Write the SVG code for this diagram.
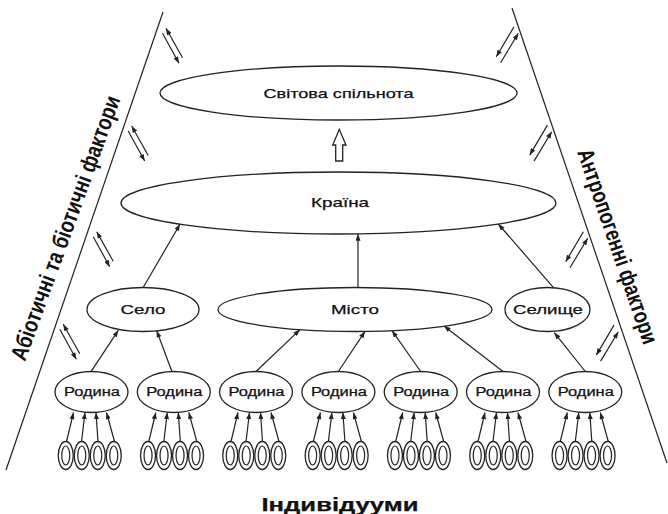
<svg xmlns="http://www.w3.org/2000/svg" xmlns:xlink="http://www.w3.org/1999/xlink" width="668" height="514" viewBox="0 0 668 514">
<style>
.ln{stroke:#222;stroke-width:1.2;fill:none}
.el{stroke:#222;stroke-width:1.3;fill:#fff}
.ar{stroke:#222;stroke-width:1.2;fill:none;marker-end:url(#ah)}
.t{font-family:"Liberation Sans",Arial,sans-serif;fill:#111;text-anchor:middle;stroke:#111;stroke-width:0.25}
.side{font-family:"Liberation Sans",Arial,sans-serif;font-weight:bold;font-size:23px;fill:#111}
</style>
<defs>
<marker id="ah" viewBox="0 0 8 6" refX="8" refY="3" markerWidth="7" markerHeight="5" markerUnits="userSpaceOnUse" orient="auto"><path d="M0,0 L8,3 L0,6 z" fill="#222"/></marker>
<g id="ind"><ellipse cx="0" cy="0" rx="7.5" ry="14" class="el"/><ellipse cx="0" cy="0" rx="4" ry="9.5" class="ln"/></g>
</defs>
<rect width="668" height="514" fill="#fff"/>
<g id="boundaries">
<line x1="163" y1="12" x2="6" y2="470" class="ln"/>
<line x1="512" y1="8" x2="667" y2="463" class="ln"/>
</g>
<g id="connectors">
<line x1="182.5" y1="57.8" x2="166" y2="28.3" class="ar"/>
<line x1="162.5" y1="33.3" x2="179" y2="63.3" class="ar"/>
<line x1="148.2" y1="155.5" x2="131.7" y2="126" class="ar"/>
<line x1="128.2" y1="131" x2="144.7" y2="161" class="ar"/>
<line x1="113.2" y1="261.2" x2="96.7" y2="231.7" class="ar"/>
<line x1="93.2" y1="236.7" x2="109.7" y2="266.7" class="ar"/>
<line x1="79.8" y1="353.8" x2="63.3" y2="324.3" class="ar"/>
<line x1="59.8" y1="329.3" x2="76.3" y2="359.3" class="ar"/>
<line x1="500.6" y1="62.7" x2="518.3" y2="33.3" class="ar"/>
<line x1="514" y1="26.7" x2="496.3" y2="56.7" class="ar"/>
<line x1="534" y1="161.1" x2="551.7" y2="131.7" class="ar"/>
<line x1="547.4" y1="125.1" x2="529.7" y2="155.1" class="ar"/>
<line x1="570" y1="267.7" x2="587.7" y2="238.3" class="ar"/>
<line x1="583.4" y1="231.7" x2="565.7" y2="261.7" class="ar"/>
<line x1="600.6" y1="361.1" x2="618.3" y2="331.7" class="ar"/>
<line x1="614" y1="325.1" x2="596.3" y2="355.1" class="ar"/>
<path d="M335.7,161 L335.7,145 L332.7,145 L339.3,129.3 L346,145 L342.7,145 L342.7,161 Z" class="el"/>
<line x1="143.3" y1="287.3" x2="180" y2="224.2" class="ar"/>
<line x1="358" y1="287.5" x2="358" y2="234" class="ar"/>
<line x1="553.3" y1="287.3" x2="498.3" y2="224" class="ar"/>
<line x1="91" y1="371.7" x2="118.3" y2="330.3" class="ar"/>
<line x1="172" y1="371.7" x2="156.7" y2="330.7" class="ar"/>
<line x1="256" y1="371.5" x2="300" y2="329.6" class="ar"/>
<line x1="338.4" y1="371.5" x2="365" y2="331.4" class="ar"/>
<line x1="420.7" y1="371.5" x2="392" y2="330.7" class="ar"/>
<line x1="503" y1="371.5" x2="444" y2="326" class="ar"/>
<line x1="585.3" y1="371.5" x2="554.3" y2="332.7" class="ar"/>
<g id="ind-arrows">
<line x1="66.5" y1="441.5" x2="73.5" y2="412.5" class="ar"/><line x1="81.5" y1="441.5" x2="85" y2="412.5" class="ar"/><line x1="98" y1="441.5" x2="96" y2="412.5" class="ar"/><line x1="114.5" y1="441.5" x2="106.5" y2="412.5" class="ar"/>
<line x1="148.8" y1="441.5" x2="155.8" y2="412.5" class="ar"/><line x1="163.8" y1="441.5" x2="167.3" y2="412.5" class="ar"/><line x1="180.3" y1="441.5" x2="178.3" y2="412.5" class="ar"/><line x1="196.8" y1="441.5" x2="188.8" y2="412.5" class="ar"/>
<line x1="231" y1="441.5" x2="238" y2="412.5" class="ar"/><line x1="246" y1="441.5" x2="249.5" y2="412.5" class="ar"/><line x1="262.5" y1="441.5" x2="260.5" y2="412.5" class="ar"/><line x1="279" y1="441.5" x2="271" y2="412.5" class="ar"/>
<line x1="313.4" y1="441.5" x2="320.4" y2="412.5" class="ar"/><line x1="328.4" y1="441.5" x2="331.9" y2="412.5" class="ar"/><line x1="344.9" y1="441.5" x2="342.9" y2="412.5" class="ar"/><line x1="361.4" y1="441.5" x2="353.4" y2="412.5" class="ar"/>
<line x1="395.7" y1="441.5" x2="402.7" y2="412.5" class="ar"/><line x1="410.7" y1="441.5" x2="414.2" y2="412.5" class="ar"/><line x1="427.2" y1="441.5" x2="425.2" y2="412.5" class="ar"/><line x1="443.7" y1="441.5" x2="435.7" y2="412.5" class="ar"/>
<line x1="478" y1="441.5" x2="485" y2="412.5" class="ar"/><line x1="493" y1="441.5" x2="496.5" y2="412.5" class="ar"/><line x1="509.5" y1="441.5" x2="507.5" y2="412.5" class="ar"/><line x1="526" y1="441.5" x2="518" y2="412.5" class="ar"/>
<line x1="560.3" y1="441.5" x2="567.3" y2="412.5" class="ar"/><line x1="575.3" y1="441.5" x2="578.8" y2="412.5" class="ar"/><line x1="591.8" y1="441.5" x2="589.8" y2="412.5" class="ar"/><line x1="608.3" y1="441.5" x2="600.3" y2="412.5" class="ar"/>
</g>
</g>
<g id="world"><ellipse cx="338.5" cy="93" rx="178.5" ry="27" class="el"/><text x="338.5" y="97.5" class="t" font-size="13" textLength="150" lengthAdjust="spacingAndGlyphs">Світова спільнота</text></g>
<g id="country"><ellipse cx="338.5" cy="203" rx="217.5" ry="31" class="el"/><text x="340" y="206.5" class="t" font-size="13" textLength="58" lengthAdjust="spacingAndGlyphs">Країна</text></g>
<g id="selo"><ellipse cx="143" cy="309.5" rx="56" ry="22" class="el"/><text x="143" y="314" class="t" font-size="13.5" textLength="45" lengthAdjust="spacingAndGlyphs">Село</text></g>
<g id="misto"><ellipse cx="355" cy="309.5" rx="137" ry="22" class="el"/><text x="355" y="314" class="t" font-size="13.5" textLength="48" lengthAdjust="spacingAndGlyphs">Місто</text></g>
<g id="selyshche"><ellipse cx="547.5" cy="309.5" rx="42.5" ry="22" class="el"/><text x="548" y="314" class="t" font-size="13.5" textLength="70" lengthAdjust="spacingAndGlyphs">Селище</text></g>
<g id="rodyna1"><ellipse cx="91.5" cy="392" rx="36.5" ry="20.5" class="el"/><text x="92" y="396" class="t" font-size="12" textLength="56" lengthAdjust="spacingAndGlyphs">Родина</text></g>
<g id="rodyna2"><ellipse cx="173.8" cy="392" rx="36.5" ry="20.5" class="el"/><text x="174.3" y="396" class="t" font-size="12" textLength="56" lengthAdjust="spacingAndGlyphs">Родина</text></g>
<g id="rodyna3"><ellipse cx="256" cy="392" rx="36.5" ry="20.5" class="el"/><text x="256.5" y="396" class="t" font-size="12" textLength="56" lengthAdjust="spacingAndGlyphs">Родина</text></g>
<g id="rodyna4"><ellipse cx="338.4" cy="392" rx="36.5" ry="20.5" class="el"/><text x="338.9" y="396" class="t" font-size="12" textLength="56" lengthAdjust="spacingAndGlyphs">Родина</text></g>
<g id="rodyna5"><ellipse cx="420.7" cy="392" rx="36.5" ry="20.5" class="el"/><text x="421.2" y="396" class="t" font-size="12" textLength="56" lengthAdjust="spacingAndGlyphs">Родина</text></g>
<g id="rodyna6"><ellipse cx="503" cy="392" rx="36.5" ry="20.5" class="el"/><text x="503.5" y="396" class="t" font-size="12" textLength="56" lengthAdjust="spacingAndGlyphs">Родина</text></g>
<g id="rodyna7"><ellipse cx="585.3" cy="392" rx="36.5" ry="20.5" class="el"/><text x="585.8" y="396" class="t" font-size="12" textLength="56" lengthAdjust="spacingAndGlyphs">Родина</text></g>
<g id="individuals">
<use xlink:href="#ind" x="65.75" y="455.5"/><use xlink:href="#ind" x="81.75" y="455.5"/><use xlink:href="#ind" x="97.75" y="455.5"/><use xlink:href="#ind" x="113.75" y="455.5"/>
<use xlink:href="#ind" x="148.05" y="455.5"/><use xlink:href="#ind" x="164.05" y="455.5"/><use xlink:href="#ind" x="180.05" y="455.5"/><use xlink:href="#ind" x="196.05" y="455.5"/>
<use xlink:href="#ind" x="230.25" y="455.5"/><use xlink:href="#ind" x="246.25" y="455.5"/><use xlink:href="#ind" x="262.25" y="455.5"/><use xlink:href="#ind" x="278.25" y="455.5"/>
<use xlink:href="#ind" x="312.65" y="455.5"/><use xlink:href="#ind" x="328.65" y="455.5"/><use xlink:href="#ind" x="344.65" y="455.5"/><use xlink:href="#ind" x="360.65" y="455.5"/>
<use xlink:href="#ind" x="394.95" y="455.5"/><use xlink:href="#ind" x="410.95" y="455.5"/><use xlink:href="#ind" x="426.95" y="455.5"/><use xlink:href="#ind" x="442.95" y="455.5"/>
<use xlink:href="#ind" x="477.25" y="455.5"/><use xlink:href="#ind" x="493.25" y="455.5"/><use xlink:href="#ind" x="509.25" y="455.5"/><use xlink:href="#ind" x="525.25" y="455.5"/>
<use xlink:href="#ind" x="559.55" y="455.5"/><use xlink:href="#ind" x="575.55" y="455.5"/><use xlink:href="#ind" x="591.55" y="455.5"/><use xlink:href="#ind" x="607.55" y="455.5"/>
</g>
<g id="labels">
<text class="side" transform="translate(25,362) rotate(-70) scale(0.75,1)" textLength="373" lengthAdjust="spacingAndGlyphs">Абіотичні та біотичні фактори</text>
<text class="side" transform="translate(577,152) rotate(71) scale(0.8,1)" font-size="22" textLength="256" lengthAdjust="spacingAndGlyphs">Антропогенні фактори</text>
<text x="340" y="511" class="t" font-size="18" font-weight="bold" stroke-width="0" textLength="157" lengthAdjust="spacingAndGlyphs">Індивідууми</text>
</g>
</svg>
